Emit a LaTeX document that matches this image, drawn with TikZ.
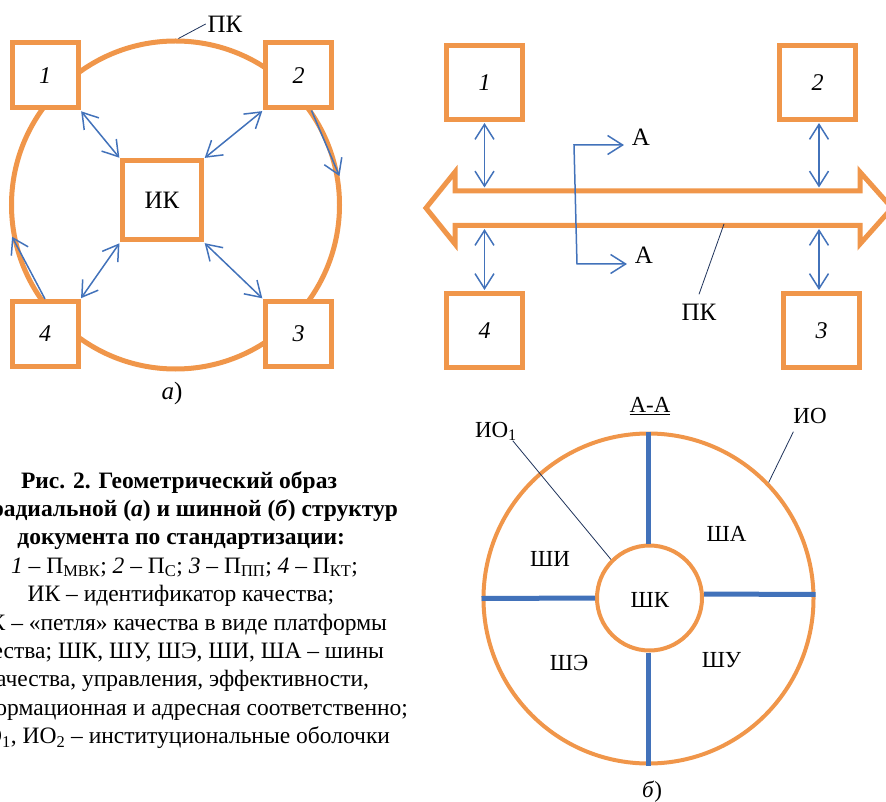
\documentclass[tikz,border=0pt]{standalone}
\usepackage{fontspec}
\setmainfont{Liberation Serif}
\usetikzlibrary{arrows.meta}
\definecolor{pkorange}{RGB}{240,150,74}
\definecolor{buswire}{RGB}{66,114,186}
\definecolor{leadline}{RGB}{30,50,90}
\begin{document}
\begin{tikzpicture}[x=1pt,y=-1pt,
  every node/.style={inner sep=0pt,outer sep=0pt},
  >={Straight Barb[length=15pt,width=19pt]},
  lbl/.style={font=\fontsize{25}{30}\selectfont},
  lblb/.style={font=\fontsize{23}{28}\selectfont},
  digit/.style={font=\fontsize{24}{28}\selectfont\itshape},
  boxa/.style={draw=pkorange,line width=5pt,fill=white,outer sep=2.5pt,
    minimum width=66pt,minimum height=65pt,digit},
  boxb/.style={boxa,minimum width=76pt,minimum height=74pt},
  link/.style={draw=buswire,line width=1.5pt,<->,shorten <=1pt,shorten >=1pt},
  flow/.style={draw=buswire,line width=1.5pt,->},
  leader/.style={draw=leadline,line width=0.8pt},
  bus/.style={draw=buswire,line width=5pt},
  shell/.style={circle,draw=pkorange,line width=4pt,outer sep=2pt},
  capt/.style={anchor=base east,font=\fontsize{23.5}{28}\selectfont},
]
\useasboundingbox (0,0) rectangle (886,802);
\begin{scope}
\clip (0,0) rectangle (886,802);

% ---------- (a) radial structure ----------
\node[circle,draw=pkorange,line width=5pt,minimum size=328pt,outer sep=2.5pt] (ring) at (175.5,205) {};
\node[boxa] (a1) at (45,75.5) {1};
\node[boxa] (a2) at (298.5,75.5) {2};
\node[boxa] (a3) at (298.5,334) {3};
\node[boxa] (a4) at (45,334) {4};
\node[boxa,minimum width=79pt,minimum height=79pt,lbl] (ik) at (162,200.5) {ИК};

\draw[link] (a1.south east) -- (ik.north west);
\draw[link] (a2.south west) -- (ik.north east);
\draw[link] (a4.north east) -- (ik.south west);
\draw[link] (a3.north west) -- (ik.south east);
\draw[flow] ([xshift=13pt]a2.south) -- (ring.10);
\draw[flow] (a4.north) -- (ring.191);

\node[lbl] (pka) at (225,24) {ПК};
\draw[leader] ([xshift=-2pt]pka.west) -- (ring.89);
\node[lbl] (capa) at (172,393) {\textit{а})};

% ---------- (b) bus structure ----------
\draw[pkorange,line width=5pt,line join=miter]
  (426,208) -- (455,172) -- (455,191) -- (860,191) -- (860,172) -- (892,208)
  -- (860,244) -- (860,225.5) -- (455,225.5) -- (455,244) -- cycle;

\node[boxb] (b1) at (484.5,82.5) {1};
\node[boxb] (b2) at (817.5,82.5) {2};
\node[boxb] (b4) at (484.5,330.5) {4};
\node[boxb] (b3) at (821.5,330.5) {3};

\coordinate (t1) at (484.5,188.5);
\coordinate (t2) at (819,188.5);
\coordinate (d1) at (484.5,228);
\coordinate (d2) at (819,228);
\draw[link] (b1.south) -- (t1);
\draw[link] (b2.south -| t2) -- (t2);
\draw[link] (d1) -- (b4.north);
\draw[link] (d2) -- (b3.north -| d2);

% section line A-A
\coordinate (sa) at (574,145);
\coordinate (sb) at (577,264);
\node[lbl] (secu) at (641,137) {А};
\node[lbl] (secd) at (644,255) {А};
\draw[draw=buswire,line width=1.5pt,<->]
  ([xshift=-8pt]secu.west |- sa) -- (sa) -- (sb) -- ([xshift=-8pt]secd.west |- sb);

\node[lbl] (pkb) at (699,312.5) {ПК};
\coordinate (pkc) at (724,224);
\draw[leader] ([yshift=10pt]pkb.north) -- (pkc);

% ---------- cross-section A-A ----------
\node[shell,minimum size=330pt] (io) at (648.5,598.5) {};
\node[shell,minimum size=105pt] (ioin) at (649.5,598) {};
\draw[bus] (io.north) -- (io.north |- ioin.north);
\draw[bus] ([yshift=4pt]ioin.east) -- ([yshift=4pt]io.east);
\draw[bus] (io.west) -- (ioin.west);
\draw[bus] (io.south |- ioin.south) -- (io.south);

\node[lblb] (aa) at (650,406) {\underline{А-А}};
\node[lblb] (iol) at (810,416) {ИО};
\draw[leader] ([yshift=-8pt]iol.south west) -- (io.44);
\node[lblb,anchor=base west] (io1l) at (475,437) {ИО\textsubscript{1}};
\draw[leader] ([xshift=-4pt]io1l.south east) -- (ioin.135);
\node[lblb] (sa1) at (726.5,533.5) {ША};
\node[lblb] (si1) at (550,558.5) {ШИ};
\node[lblb] (sk1) at (650,599.5) {ШК};
\node[lblb] (se1) at (569,662.5) {ШЭ};
\node[lblb] (su1) at (721.5,660) {ШУ};
\node[lblb] (capb) at (652,792) {\textit{б})};

% ---------- caption ----------
\node[capt] (cap1) at (337,488) {\textbf{Рис. 2. Геометрический образ}};
\node[capt] (cap2) at (398,516.4) {\textbf{радиальной (\textit{а}) и шинной (\textit{б}) структур}};
\node[capt] (cap3) at (345,544.8) {\textbf{документа по стандартизации:}};
\node[capt] (cap4) at (358,573.2) {\textit{1} – П\textsubscript{МВК}; \textit{2} – П\textsubscript{С}; \textit{3} – П\textsubscript{ПП}; \textit{4} – П\textsubscript{КТ};};
\node[capt] (cap5) at (334,601.6) {ИК – идентификатор качества;};
\node[capt] (cap6) at (387,630) {ПК – «петля» качества в виде платформы};
\node[capt] (cap7) at (384,658.4) {качества; ШК, ШУ, ШЭ, ШИ, ША – шины};
\node[capt] (cap8) at (369,686.8) {качества, управления, эффективности,};
\node[capt] (cap9) at (408,715.2) {информационная и адресная соответственно;};
\node[capt] (cap10) at (390,743.6) {ИО\textsubscript{1}, ИО\textsubscript{2} – институциональные оболочки};
\end{scope}
\end{tikzpicture}
\end{document}
